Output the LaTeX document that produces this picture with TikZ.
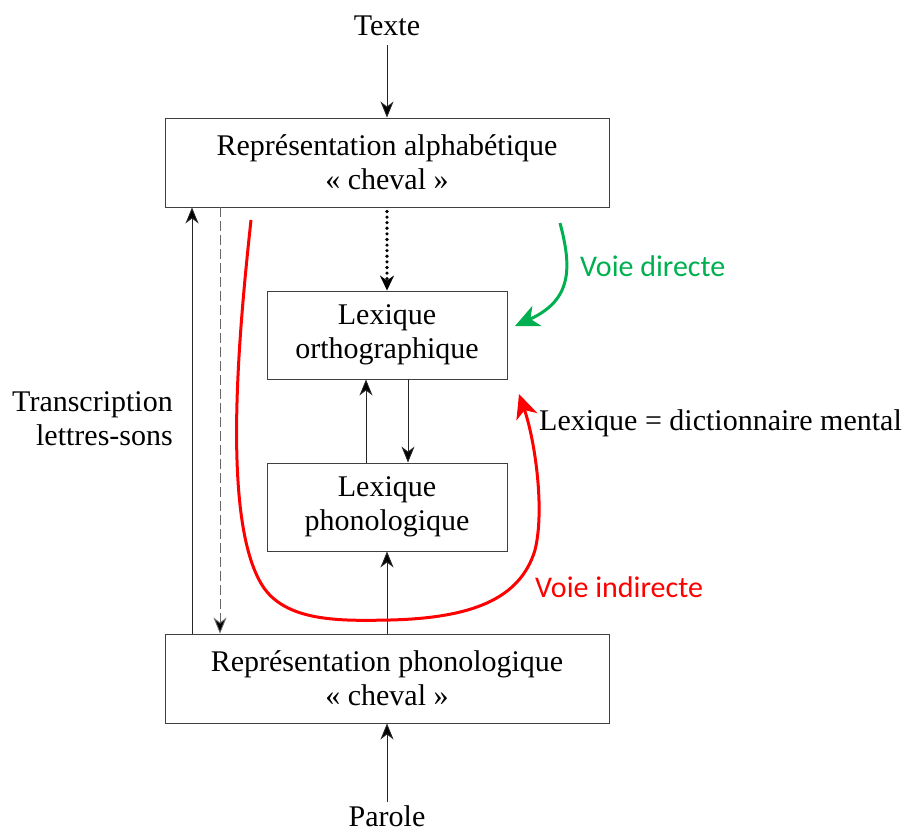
\documentclass[tikz,border=0pt]{standalone}
\usepackage{fontspec}
\setmainfont{Liberation Serif}
\newfontfamily\calfont{Carlito}
\usetikzlibrary{arrows.meta}
\definecolor{vgreen}{RGB}{0,176,80}
\definecolor{vred}{RGB}{255,0,0}
\begin{document}
\begin{tikzpicture}[x=1pt,y=-1pt,
  box/.style={draw=black!75,line width=0.9pt,minimum width=444pt,minimum height=89pt,inner sep=0pt,align=center,font=\fontsize{30}{34}\selectfont},
  lexbox/.style={box,minimum width=240pt,minimum height=88pt},
  lbl/.style={inner sep=0pt,font=\fontsize{30}{34}\selectfont},
  clbl/.style={inner sep=0pt,font=\calfont\fontsize{30}{34}\selectfont},
  arr/.style={line width=0.9pt,draw=black!85,-{Stealth[length=16pt,width=13pt,inset=5pt,fill=black]}},
  dashedarr/.style={arr,draw=black!60,dash pattern=on 10pt off 4pt},
  dottedarr/.style={line width=3.6pt,line cap=round,dash pattern=on 0pt off 5.6pt,-{Stealth[length=15pt,width=14pt,inset=5pt,line cap=butt]}},
  bigarr/.style={line width=3pt,-{Stealth[length=24pt,width=22pt,inset=7pt]}}]
\path[use as bounding box] (0,0) rectangle (906,831);

% nodes
\node[lbl,anchor=base] (texte) at (387,35) {Texte};
\node[box] (A) at (387,162.5) {Représentation alphabétique\\« cheval »};
\node[lexbox] (O) at (387,335) {Lexique\\orthographique};
\node[lexbox] (P) at (387,507) {Lexique\\phonologique};
\node[box] (B) at (387,678.5) {Représentation phonologique\\« cheval »};
\node[lbl,anchor=base] (parole) at (387,826) {Parole};
\node[lbl,align=right,anchor=east] (trans) at (173,418.3) {Transcription\\lettres-sons};
\node[lbl,anchor=base west] (lex) at (539,430) {Lexique = dictionnaire mental};
\node[clbl,anchor=base west,text=vgreen] (vd) at (580,276) {Voie directe};
\node[clbl,anchor=base west,text=vred] (vi) at (535,597) {Voie indirecte};

% connectors
\draw[arr,shorten <=10pt] (texte) -- (A);
\draw[arr,shorten <=3pt] (parole) -- (B);
\draw[dottedarr] ([yshift=-4pt]A.south) -- (O.north);
\draw[arr] ([xshift=-21pt]P.north) -- ([xshift=-21pt]O.south);
\draw[arr] ([xshift=21pt]O.south) -- ([xshift=21pt]P.north);
\draw[arr] (B.north) -- (P.south);
\draw[arr] ([xshift=-195pt]B.north) -- ([xshift=-195pt]A.south);
\draw[dashedarr] ([xshift=-167pt]A.south) -- ([xshift=-167pt]B.north);

% routes
\coordinate (gs) at (560,223);
\coordinate (ge) at (515,326);
\draw[bigarr,draw=vgreen] (gs) .. controls (572,268) and (572,300) .. (ge);
\coordinate (rs) at (251,220);
\coordinate (re) at (519,394);
\draw[bigarr,draw=vred] (rs) .. controls (238,340) and (222,520) .. (262,585)
  .. controls (285,622) and (340,621) .. (390,620)
  .. controls (470,618) and (520,600) .. (535,550)
  .. controls (545,510) and (535,440) .. (re);
\end{tikzpicture}
\end{document}
